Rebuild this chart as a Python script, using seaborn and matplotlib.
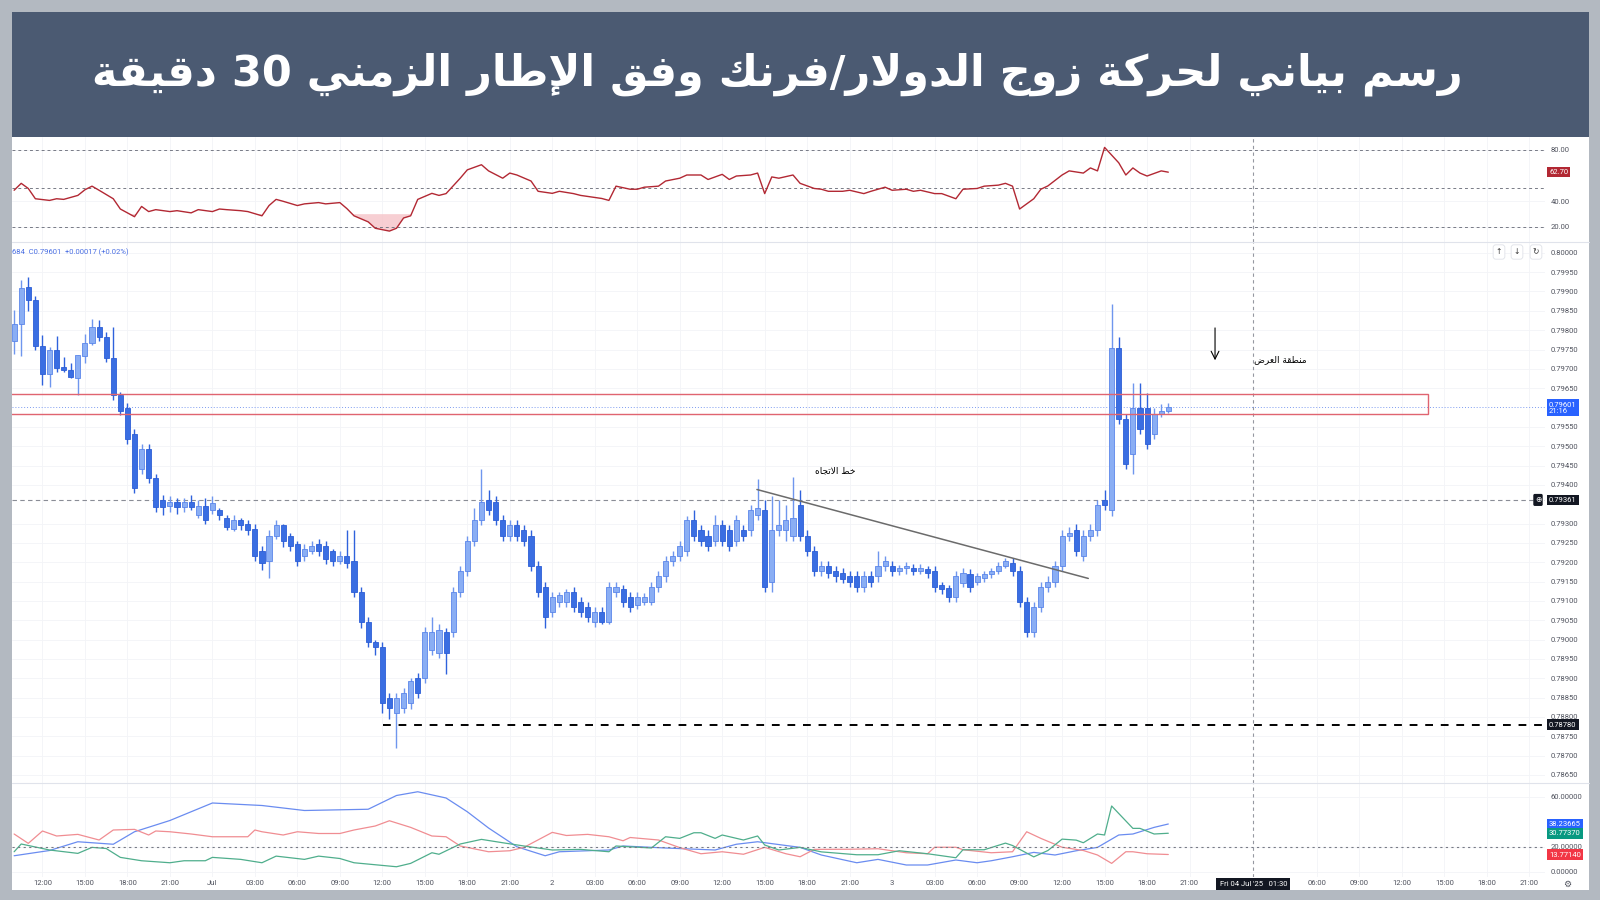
"""USD/CHF 30-minute chart with RSI and DMI panels."""

import re

import matplotlib.pyplot as plt
import matplotlib.transforms as mtransforms
import numpy as np
import pandas as pd
import seaborn as sns
from matplotlib.patches import Rectangle

TITLE = "رسم بياني لحركة زوج الدولار/فرنك وفق الإطار الزمني 30 دقيقة"
TREND_LABEL = "خط الاتجاه"
ZONE_LABEL = "منطقة العرض"

# candles (bar index = 30 min steps from 30 Jun 10:00)
OPEN = [.79772, .79815, .79911, .79877, .79758, .79686, .79750, .79704, .79696, .79676, .79733, .79767, .79808, .79782, .79727, .79632,
        .79598, .79532, .79440, .79492, .79419, .79361, .79345, .79356, .79343, .79356,
        .79321, .79345, .79335, .79335, .79313, .79287, .79308, .79300, .79287, .79229,
        .79203, .79269, .79295, .79269, .79248, .79216, .79229, .79248, .79243, .79229,
        .79203, .79216, .79203, .79124, .79045, .78993, .78980, .78848, .78809, .78822,
        .78835, .78901, .78901, .78972, .78966, .79019, .79019, .79124, .79177, .79256,
        .79308, .79361, .79356, .79308, .79269, .79295, .79282, .79269, .79190, .79137,
        .79072, .79098, .79098, .79124, .79098, .79085, .79045, .79072, .79045, .79124,
        .79130, .79111, .79090, .79098, .79098, .79137, .79164, .79203, .79216, .79229,
        .79308, .79282, .79269, .79256, .79295, .79282, .79256, .79282, .79282, .79321,
        .79335, .79150, .79282, .79282, .79269, .79348, .79269, .79229, .79177, .79190,
        .79177, .79172, .79164, .79164, .79137, .79164, .79164, .79190, .79190, .79177, .79185,
        .79185, .79177, .79182, .79177, .79142, .79132, .79111, .79145, .79169, .79150,
        .79158, .79169, .79177, .79190, .79198, .79177, .79098, .79019, .79085, .79137,
        .79150, .79190, .79269, .79282, .79216, .79269, .79282, .79361, .79335, .79755,
        .79571, .79479, .79598, .79598, .79532, .79584, .79590]
HIGH = [.79851, .79929, .79937, .79888, .79787, .79756, .79784, .79730, .79715, .79735, .79790, .79829, .79826, .79795, .79808, .79640,
        .79611, .79545, .79506, .79506, .79427, .79374, .79370, .79366, .79366, .79374,
        .79361, .79366, .79370, .79340, .79321, .79321, .79315, .79308, .79300, .79243,
        .79282, .79308, .79300, .79275, .79256, .79248, .79256, .79260, .79256, .79235,
        .79229, .79282, .79282, .79137, .79058, .79000, .78993, .78861, .78861, .78874,
        .78900, .78914, .79032, .79058, .79040, .79030, .79137, .79190, .79269, .79340,
        .79440, .79387, .79370, .79321, .79308, .79308, .79295, .79282, .79203, .79150,
        .79124, .79124, .79130, .79137, .79111, .79098, .79085, .79085, .79150, .79150,
        .79140, .79124, .79124, .79120, .79150, .79177, .79216, .79229, .79256, .79320,
        .79335, .79295, .79282, .79321, .79308, .79295, .79321, .79295, .79348, .79414,
        .79361, .79370, .79361, .79348, .79420, .79387, .79282, .79243, .79203, .79203,
        .79190, .79185, .79177, .79177, .79177, .79177, .79229, .79216, .79203, .79192, .79200,
        .79195, .79195, .79190, .79190, .79150, .79140, .79177, .79185, .79182, .79172,
        .79177, .79185, .79200, .79210, .79210, .79190, .79111, .79098, .79150, .79164,
        .79203, .79282, .79290, .79300, .79282, .79300, .79361, .79387, .79868, .79782,
        .79584, .79663, .79663, .79637, .79600, .79610, .79612]
LOW = [.79738, .79733, .79849, .79748, .79658, .79653, .79691, .79691, .79676, .79632, .79715, .79761, .79772, .79717, .79619, .79580,
       .79506, .79380, .79427, .79406, .79330, .79321, .79330, .79325, .79330, .79335,
       .79315, .79300, .79325, .79308, .79282, .79280, .79282, .79270, .79203, .79180,
       .79160, .79260, .79240, .79230, .79190, .79203, .79220, .79216, .79195, .79190,
       .79195, .79185, .79110, .79030, .78980, .78960, .78810, .78795, .78720, .78809,
       .78820, .78848, .78888, .78960, .78953, .78910, .79006, .79110, .79164, .79243,
       .79295, .79321, .79295, .79256, .79256, .79256, .79243, .79177, .79110, .79030,
       .79058, .79085, .79085, .79072, .79058, .79045, .79032, .79040, .79040, .79111,
       .79085, .79072, .79080, .79090, .79090, .79124, .79150, .79190, .79203, .79216,
       .79256, .79243, .79229, .79243, .79243, .79229, .79243, .79256, .79269, .79308,
       .79124, .79124, .79269, .79256, .79256, .79256, .79216, .79164, .79164, .79160,
       .79150, .79145, .79137, .79124, .79124, .79137, .79150, .79177, .79164, .79168, .79170,
       .79168, .79170, .79160, .79124, .79117, .79098, .79098, .79137, .79124, .79140,
       .79150, .79160, .79170, .79185, .79164, .79085, .79006, .79006, .79072, .79124,
       .79137, .79177, .79256, .79216, .79203, .79256, .79269, .79335, .79320, .79558,
       .79440, .79427, .79532, .79492, .79519, .79575, .79585]
CLOSE = [.79816, .79908, .79877, .79758, .79686, .79748, .79701, .79696, .79678, .79735, .79767, .79808, .79782, .79727, .79632, .79590,
         .79519, .79393, .79492, .79419, .79343, .79343, .79356, .79343, .79356, .79343,
         .79345, .79308, .79353, .79321, .79292, .79308, .79295, .79282, .79216, .79198,
         .79269, .79295, .79256, .79243, .79203, .79235, .79243, .79229, .79208, .79203,
         .79216, .79198, .79124, .79045, .78993, .78980, .78835, .78822, .78848, .78861,
         .78893, .78861, .79019, .79019, .79024, .78966, .79124, .79177, .79256, .79308,
         .79356, .79335, .79308, .79269, .79295, .79269, .79256, .79190, .79124, .79058,
         .79111, .79116, .79124, .79085, .79072, .79058, .79072, .79045, .79137, .79137,
         .79098, .79085, .79111, .79111, .79137, .79164, .79203, .79216, .79243, .79308,
         .79269, .79256, .79243, .79295, .79256, .79243, .79308, .79269, .79335, .79340,
         .79137, .79282, .79295, .79308, .79313, .79269, .79229, .79177, .79190, .79172,
         .79164, .79156, .79150, .79137, .79164, .79150, .79190, .79203, .79177, .79185, .79190,
         .79177, .79185, .79172, .79137, .79130, .79111, .79164, .79172, .79137, .79164,
         .79169, .79177, .79190, .79203, .79177, .79098, .79019, .79085, .79137, .79150,
         .79190, .79269, .79276, .79229, .79269, .79282, .79348, .79348, .79755, .79571,
         .79453, .79598, .79545, .79506, .79584, .79590, .79601]

# RSI panel
RSI_BAR = [0, 1, 2, 3, 5, 6, 7, 9, 10, 11, 12, 14, 15, 17, 18, 19, 20, 22, 23, 25,
           26, 28, 29, 30, 32, 33, 35, 36, 37, 38, 40, 41, 43, 44, 46, 47, 48, 50, 51, 53,
           54, 55, 56, 57, 59, 60, 61, 63, 64, 66, 67, 69, 70, 71, 73, 74, 76, 77, 79, 80,
           82, 83, 84, 85, 87, 88, 89, 91, 92, 94, 95, 97, 98, 100, 101, 102, 104, 105, 106, 107,
           108, 110, 111, 113, 114, 115, 117, 118, 120, 121, 123, 124, 126, 127, 128, 130, 131, 133, 134, 136,
           137, 139, 140, 141, 142, 144, 145, 146, 148, 149, 151, 152, 153, 154, 156, 157, 158, 159, 160, 162, 163]
RSI_VAL = [48.6, 54, 50, 42, 40.7, 42, 41.5, 44.6, 49, 51.8, 48.6, 42, 34, 28, 36, 32, 33.5, 32, 32.7, 31,
           33.5, 32, 34, 33.5, 32.7, 32, 28.7, 36.7, 41.5, 40, 36.7, 38, 39, 38, 39, 34.3, 28.7, 24, 19, 16.8,
           19, 27, 28.7, 41.5, 46.2, 44.6, 46, 58, 64.5, 68.5, 63.7, 58, 62, 60.5, 55.8, 47.8, 46.2, 47.8, 46, 44.6,
           43, 42.2, 40.7, 51.8, 49.4, 49.4, 51, 51.8, 55.8, 58, 60.5, 60.5, 57, 61, 57, 59.7, 60.5, 62, 46, 59,
           58, 60.5, 54, 50, 49.4, 47.8, 47.8, 48.6, 46, 47.8, 51, 48.6, 49.4, 47.8, 48.6, 46, 46, 42, 49.4, 50,
           51.8, 52.6, 54, 51.8, 34, 42, 49.4, 52, 60.5, 63.7, 62, 66, 63.7, 82, 70, 60.5, 66, 62, 59.7, 63.7, 62.7]

# DMI panel
BLUE_BAR = [0, 5, 9, 14, 17, 22, 28, 35, 41, 50, 54, 57, 61, 64, 67, 71, 75, 77, 84, 86,
            92, 99, 102, 105, 111, 114, 119, 122, 126, 129, 133, 136, 138, 141, 144, 147, 150, 153, 156, 158, 161, 163]
BLUE_VAL = [12.8, 17, 24, 22, 32, 41, 55, 53, 49, 50, 61, 64, 59, 48, 35, 20, 12.8, 16, 17.4, 20.6,
            19, 17.4, 22, 24, 19.5, 13.4, 7.2, 9.9, 5.4, 5.4, 9.4, 7.2, 8.8, 12, 15.5, 13.4, 16.8, 19.5, 29.4, 30.2, 35.5, 38.2]
RED_BAR = [0, 2, 4, 6, 9, 12, 14, 17, 19, 20, 22, 25, 28, 33, 34, 35, 38, 40, 43, 46,
           48, 51, 53, 56, 59, 61, 63, 67, 70, 72, 76, 78, 81, 84, 86, 87, 91, 94, 97, 100,
           103, 106, 109, 111, 113, 118, 122, 126, 129, 130, 133, 134, 138, 141, 143, 145, 148, 151, 153, 155,
           157, 158, 160, 163]
RED_VAL = [30.2, 22.7, 32.6, 28.6, 29.9, 25.4, 33.4, 33.9, 29.4, 32.6, 32, 30.2, 28, 28, 33.4, 32, 29.4, 32, 30.6, 30.6,
           33.4, 36.6, 40.8, 35.5, 28.6, 28, 20.6, 16, 16.8, 19.5, 31.5, 29, 29.9, 28, 24.8, 27.4, 25.4, 19.3, 14.4, 16,
           14, 19.5, 14.4, 12, 17.9, 18, 18.4, 15.2, 14.4, 19.6, 19.6, 17.6, 15.2, 16, 32, 26.7, 19.6, 17, 13.4, 6.7,
           16, 16, 14.4, 13.8]
GREEN_BAR = [0, 1, 5, 9, 11, 13, 15, 18, 22, 24, 27, 28, 32, 35, 37, 41, 43, 46, 48, 54,
             56, 59, 60, 63, 66, 69, 72, 76, 80, 84, 85, 90, 92, 94, 96, 97, 99, 100, 103, 105,
             106, 108, 111, 114, 119, 122, 125, 129, 133, 134, 137, 140, 141, 144, 146, 148, 150, 151, 153, 154,
             155, 158, 159, 161, 163]
GREEN_VAL = [16, 22.2, 17.4, 14.7, 19.5, 18.6, 11.5, 8.8, 7.2, 8.8, 8.8, 11.5, 9.9, 7.2, 12.5, 9.9, 12.5, 10.6, 7.2, 4,
             6.7, 15.2, 14, 22.2, 25.9, 23.2, 20.6, 17.4, 17.9, 16, 20.6, 19, 28, 26.7, 31.2, 31.2, 26.7, 29.4, 25.4, 28.6,
             21.4, 17.4, 19.5, 15.9, 13.6, 13.6, 16.8, 14.4, 11.2, 17.6, 17.6, 22.9, 21, 11.9, 17, 26.1, 25.3, 23.2, 30.2, 29.4,
             52.6, 34.7, 34.7, 30.2, 30.8]

# x axis ticks every 3 hours
TICK_BARS = [4, 10, 16, 22, 28, 34, 40, 46, 52, 58, 64, 70, 76, 82, 88, 94, 100, 106,
             112, 118, 124, 130, 136, 142, 148, 154, 160, 166, 184, 190, 196, 202, 208, 214]
TICK_LABELS = ["12:00", "15:00", "18:00", "21:00", "Jul", "03:00", "06:00", "09:00", "12:00",
               "15:00", "18:00", "21:00", "2", "03:00", "06:00", "09:00", "12:00", "15:00",
               "18:00", "21:00", "3", "03:00", "06:00", "09:00", "12:00", "15:00", "18:00",
               "21:00", "06:00", "09:00", "12:00", "15:00", "18:00", "21:00"]
PRICE_TICKS = [0.78650, 0.78700, 0.78750, 0.78800, 0.78850, 0.78900, 0.78950, 0.79000,
               0.79050, 0.79100, 0.79150, 0.79200, 0.79250, 0.79300, 0.79400, 0.79450,
               0.79500, 0.79550, 0.79650, 0.79700, 0.79750, 0.79800, 0.79850, 0.79900,
               0.79950, 0.80000]
RSI_TICKS = [20, 40, 80]
RSI_LEVELS = [20, 50, 80]
DMI_TICKS = [0, 20, 60]

LAST_PRICE = 0.79601
CROSS_PRICE = 0.79361
CROSS_BAR = 175
SUPPORT = 0.78780
ZONE = (0.79583, 0.79635)
TREND = ([104.9, 151.7], [0.79388, 0.79158])
RSI_LAST, BLUE_LAST, GREEN_LAST, RED_LAST = 62.70, 38.23665, 30.77370, 13.77140

# --- minimal Arabic shaping (matplotlib has no text shaping) ---
FORMS = {
    "ا": ("\ufe8d", "\ufe8e", None, None), "إ": ("\ufe87", "\ufe88", None, None),
    "ب": ("\ufe8f", "\ufe90", "\ufe91", "\ufe92"), "ة": ("\ufe93", "\ufe94", None, None),
    "ت": ("\ufe95", "\ufe96", "\ufe97", "\ufe98"), "ج": ("\ufe9d", "\ufe9e", "\ufe9f", "\ufea0"),
    "ح": ("\ufea1", "\ufea2", "\ufea3", "\ufea4"), "خ": ("\ufea5", "\ufea6", "\ufea7", "\ufea8"),
    "د": ("\ufea9", "\ufeaa", None, None), "ر": ("\ufead", "\ufeae", None, None),
    "ز": ("\ufeaf", "\ufeb0", None, None), "س": ("\ufeb1", "\ufeb2", "\ufeb3", "\ufeb4"),
    "ض": ("\ufebd", "\ufebe", "\ufebf", "\ufec0"), "ط": ("\ufec1", "\ufec2", "\ufec3", "\ufec4"),
    "ع": ("\ufec9", "\ufeca", "\ufecb", "\ufecc"), "ف": ("\ufed1", "\ufed2", "\ufed3", "\ufed4"),
    "ق": ("\ufed5", "\ufed6", "\ufed7", "\ufed8"), "ك": ("\ufed9", "\ufeda", "\ufedb", "\ufedc"),
    "ل": ("\ufedd", "\ufede", "\ufedf", "\ufee0"), "م": ("\ufee1", "\ufee2", "\ufee3", "\ufee4"),
    "ن": ("\ufee5", "\ufee6", "\ufee7", "\ufee8"), "ه": ("\ufee9", "\ufeea", "\ufeeb", "\ufeec"),
    "و": ("\ufeed", "\ufeee", None, None), "ي": ("\ufef1", "\ufef2", "\ufef3", "\ufef4"),
}
LAM_ALEF = {"ا": ("\ufefb", "\ufefc"), "إ": ("\ufef9", "\ufefa")}


def joins_next(c):
    return c in FORMS and FORMS[c][2] is not None


def shape_arabic(text):
    out, i = [], 0
    while i < len(text):
        c = text[i]
        if c not in FORMS:
            out.append(c)
            i += 1
            continue
        link_prev = i > 0 and joins_next(text[i - 1])
        nxt = text[i + 1] if i + 1 < len(text) else ""
        if c == "ل" and nxt in LAM_ALEF:
            out.append(LAM_ALEF[nxt][1 if link_prev else 0])
            i += 2
            continue
        link_next = joins_next(c) and nxt in FORMS
        iso, fin, ini, med = FORMS[c]
        out.append(med if link_prev and link_next else fin if link_prev else ini if link_next else iso)
        i += 1
    vis = "".join(out)[::-1]
    return re.sub(r"\d+", lambda m: m.group(0)[::-1], vis)


sns.set_theme(style="white")
plt.rcParams["font.family"] = ["Roboto", "DejaVu Sans"]

W, H = 1600, 900
fig = plt.figure(figsize=(16, 9), dpi=100)
fig.patch.set_facecolor("#b3b9c1")


def rect(x0, y0, x1, y1):
    return [x0 / W, 1 - y1 / H, (x1 - x0) / W, (y1 - y0) / H]


fig.add_artist(Rectangle((12 / W, 1 - 890 / H), 1577 / W, 753 / H, transform=fig.transFigure,
                         fc="white", ec="none", zorder=-2))
fig.add_artist(Rectangle((12 / W, 1 - 137 / H), 1577 / W, 125 / H, transform=fig.transFigure,
                         fc="#4b5a72", ec="none", zorder=-1))
fig.text(777 / W, 1 - 74 / H, shape_arabic(TITLE), color="white", fontsize=31,
         fontweight="bold", family=["DejaVu Sans"], ha="center", va="center")

ax_rsi = fig.add_axes(rect(12, 137, 1545, 242))
ax_main = fig.add_axes(rect(12, 242, 1545, 783))
ax_dmi = fig.add_axes(rect(12, 783, 1545, 877))

XLIM = (-0.3, 216.2)
for ax in (ax_rsi, ax_main, ax_dmi):
    ax.set_facecolor("none")
    for s in ax.spines.values():
        s.set_visible(False)
    ax.set_xlim(*XLIM)
    ax.set_xticks(TICK_BARS)
    ax.yaxis.tick_right()
    ax.tick_params(axis="both", length=0, labelsize=5.5, labelcolor="#50535e", pad=4.3)
    ax.tick_params(axis="x", labelbottom=False)
    ax.grid(True, color="#f3f4f7", lw=0.6)
    ax.axvline(CROSS_BAR, color="#9598a1", lw=0.8, ls=(0, (3, 3)))

for y in (242, 783):
    fig.add_artist(plt.Line2D([12 / W, 1589 / W], [1 - y / H, 1 - y / H], color="#e0e3eb", lw=0.8))

# --- RSI ---
rsi = pd.DataFrame({"bar": RSI_BAR, "rsi": RSI_VAL})
for lvl in RSI_LEVELS:
    ax_rsi.axhline(lvl, color="#787b86", lw=0.7, ls=(0, (3, 3)))
ax_rsi.fill_between(rsi["bar"], rsi["rsi"], 30, where=rsi["rsi"] < 30, interpolate=True,
                    color="#f6c4c8", alpha=0.8, lw=0)
sns.lineplot(data=rsi, x="bar", y="rsi", ax=ax_rsi, color="#b22833", lw=1.0)
ax_rsi.set_ylim(8.3, 90.1)
ax_rsi.set_yticks(RSI_TICKS)
ax_rsi.yaxis.set_major_formatter(plt.FormatStrFormatter("%.2f"))
ax_rsi.set_xlabel("")
ax_rsi.set_ylabel("")

# --- candles ---
df = pd.DataFrame({"open": OPEN, "high": HIGH, "low": LOW, "close": CLOSE})
df["bar"] = np.arange(len(df))
up = df["close"] >= df["open"]
ax_main.vlines(df["bar"], df["low"], df["high"], colors=np.where(up, "#6f96ee", "#2f62dc"), lw=1.0, zorder=3)
ax_main.bar(df["bar"], (df["close"] - df["open"]).abs().clip(lower=0.000012),
            bottom=df[["open", "close"]].min(axis=1), width=0.72,
            color=np.where(up, "#8aaef4", "#3a6ee2"), edgecolor=np.where(up, "#5b86ea", "#2c5ed6"),
            linewidth=0.6, zorder=4)
ax_main.set_ylim(0.78629, 0.80028)
ax_main.set_yticks(PRICE_TICKS)
ax_main.yaxis.set_major_formatter(plt.FormatStrFormatter("%.5f"))

ax_main.add_patch(Rectangle((-1, ZONE[0]), 200.7, ZONE[1] - ZONE[0], fill=False,
                            ec="#e06470", lw=1.0, zorder=5))
ax_main.axhline(LAST_PRICE, color="#7d9cf0", lw=0.7, ls=(0, (1, 2)), zorder=2)
ax_main.axhline(CROSS_PRICE, color="#8a8d96", lw=0.8, ls=(0, (4, 3)), zorder=2)
ax_main.hlines(SUPPORT, 52.1, XLIM[1], color="black", lw=1.4, ls=(0, (4, 4)), zorder=6)
ax_main.plot(TREND[0], TREND[1], color="#6b6b6b", lw=1.1, zorder=6)
ax_main.text(116, 0.79437, shape_arabic(TREND_LABEL), family=["DejaVu Sans"], fontsize=6.5,
             ha="center", va="center", color="black")
ax_main.annotate("", xy=(169.6, 0.79715), xytext=(169.6, 0.79813),
                 arrowprops=dict(arrowstyle="->", color="black", lw=0.8, mutation_scale=14))
ax_main.text(175.1, 0.79724, shape_arabic(ZONE_LABEL), family=["DejaVu Sans"], fontsize=6.5,
             ha="left", va="center", color="black")
fig.text(12 / W, 1 - 252 / H, "684  C0.79601  +0.00017 (+0.02%)", color="#4a6fe3",
         fontsize=5.5, ha="left", va="center")
for px, sym in ((1499, "↑"), (1517, "↓"), (1536, "↻")):
    fig.text(px / W, 1 - 252 / H, sym, family=["DejaVu Sans"], fontsize=5.5, color="#333333",
             ha="center", va="center",
             bbox=dict(boxstyle="round,pad=0.35", fc="white", ec="#dfe2e8", lw=0.6))

# --- DMI ---
for name, bars, vals, col in (("blue", BLUE_BAR, BLUE_VAL, "#6a8cf0"),
                              ("red", RED_BAR, RED_VAL, "#f08d92"),
                              ("green", GREEN_BAR, GREEN_VAL, "#4fae8c")):
    sns.lineplot(x=bars, y=vals, ax=ax_dmi, color=col, lw=0.9)
ax_dmi.axhline(20, color="#787b86", lw=0.8, ls=(0, (2, 3)))
ax_dmi.set_ylim(-4.2, 71.0)
ax_dmi.set_yticks(DMI_TICKS)
ax_dmi.yaxis.set_major_formatter(plt.FormatStrFormatter("%.5f"))
ax_dmi.tick_params(axis="x", labelbottom=True, pad=2.2)
ax_dmi.set_xticklabels(TICK_LABELS)


# --- price tags on the right scale ---
def tag(ax, value, text, color, dy=0.0, va="center"):
    trans = mtransforms.blended_transform_factory(fig.transFigure, ax.transData)
    trans = trans + mtransforms.ScaledTranslation(0, dy / 72, fig.dpi_scale_trans)
    fig.text(1549 / W, value, text, transform=trans, color="white", fontsize=5.5, ha="left",
             va=va, linespacing=1.1, zorder=10,
             bbox=dict(boxstyle="square,pad=0.3", fc=color, ec="none"))


tag(ax_rsi, RSI_LAST, f"{RSI_LAST:.2f}", "#b22833")
tag(ax_main, LAST_PRICE, f"{LAST_PRICE:.5f}\n21:16", "#2962ff", dy=4, va="top")
tag(ax_main, CROSS_PRICE, f"{CROSS_PRICE:.5f}", "#131722")
tag(ax_main, SUPPORT, f"{SUPPORT:.5f}", "#131722")
tag(ax_dmi, BLUE_LAST, f"{BLUE_LAST:.5f}", "#2962ff")
tag(ax_dmi, GREEN_LAST, f"{GREEN_LAST:.5f}", "#089981")
tag(ax_dmi, RED_LAST, f"{RED_LAST:.5f}", "#f23645")

trans = mtransforms.blended_transform_factory(fig.transFigure, ax_main.transData)
fig.text(1538 / W, CROSS_PRICE, "⊕", transform=trans, family=["DejaVu Sans"], color="white",
         fontsize=5.5, ha="center", va="center", zorder=10,
         bbox=dict(boxstyle="round,pad=0.2", fc="#131722", ec="none"))
trans = mtransforms.blended_transform_factory(ax_dmi.transData, fig.transFigure)
fig.text(CROSS_BAR, 1 - 884 / H, "Fri 04 Jul '25   01:30", transform=trans, color="white",
         fontsize=5.5, ha="center", va="center", zorder=10,
         bbox=dict(boxstyle="square,pad=0.45", fc="#131722", ec="none"))
fig.text(1567 / W, 1 - 884 / H, "⚙", family=["DejaVu Sans"], fontsize=6.5, color="#50535e",
         ha="center", va="center")

fig.savefig("out.png", dpi=100, facecolor=fig.get_facecolor())
